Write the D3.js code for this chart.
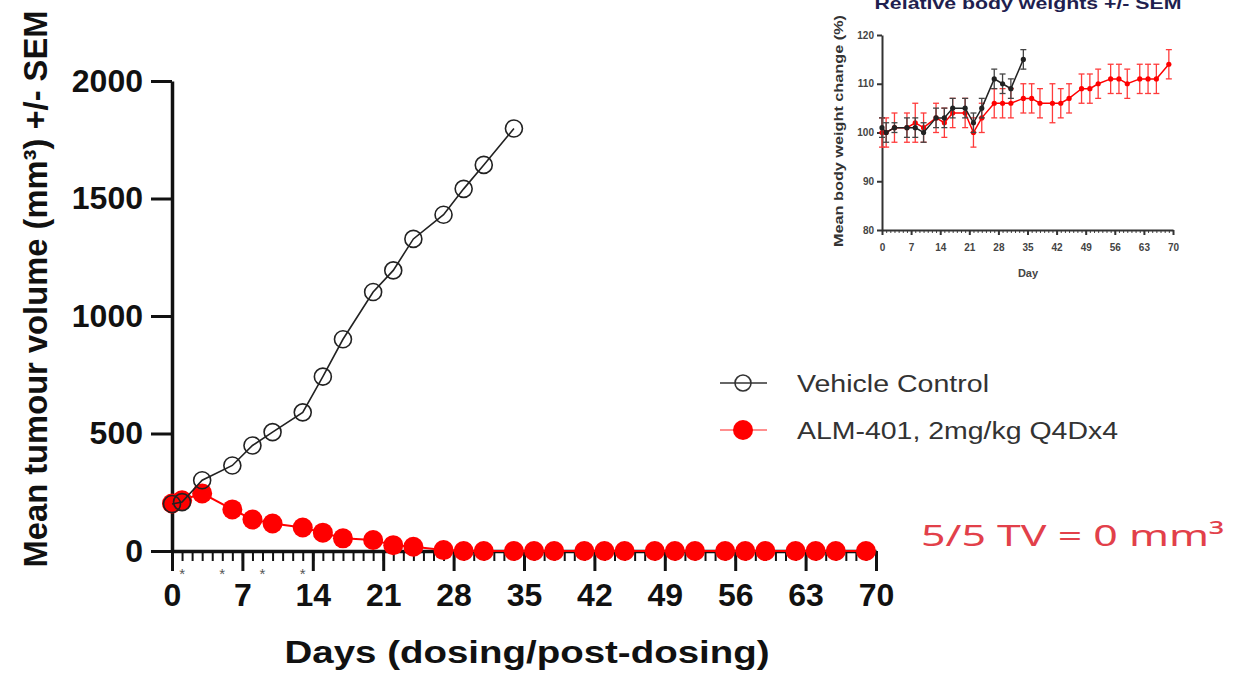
<!DOCTYPE html>
<html>
<head>
<meta charset="utf-8">
<script src="https://cdn.jsdelivr.net/npm/d3@7"></script>
<style>
  body { margin: 0; background: #fff; }
  svg { display: block; }
  text { font-family: 'Liberation Sans', Arial, sans-serif; }
</style>
</head>
<body>
<script>
// ---- data -------------------------------------------------------------
const seriesNames = ['Vehicle Control', 'ALM-401, 2mg/kg Q4Dx4']

const vehicleDays = [0, 1, 3, 6, 8, 10, 13, 15, 17, 20, 22, 24, 27, 29, 31, 34]
const vehicleVolume = [200, 208, 301, 364, 449, 506, 590, 742, 901, 1102, 1194, 1328, 1431, 1541, 1643, 1798]

const almDays = [0, 1, 3, 6, 8, 10, 13, 15, 17, 20, 22, 24, 27, 29, 31, 34, 36, 38, 41, 43, 45, 48, 50, 52, 55, 57, 59, 62, 64, 66, 69]
const almVolume = [202, 216, 245, 177, 134, 117, 100, 78, 54, 47, 25, 18, 4, 0, 0, 0, 0, 0, 0, 0, 0, 0, 0, 0, 0, 0, 0, 0, 0, 0, 0]

const dosingDays = [1, 5, 9, 13]
const volumeTicks = [0, 500, 1000, 1500, 2000]
const dayTicks = [0, 7, 14, 21, 28, 35, 42, 49, 56, 63, 70]

// inset: relative body weight
const bwVehicle = [101, 100, 101, 101, 101, 100, 103, 103, 105, 105, 102, 105, 111, 110, 109, 115]
const bwVehicleSem = [2, 2, 1, 2, 2, 2, 2, 2, 2, 2, 2, 2, 2, 2, 2, 2]
const bwAlm = [100, 100, 101, 101, 102, 101, 103, 102, 104, 104, 100, 103, 106, 106, 106, 107, 107, 106, 106, 106, 107, 109, 109, 110, 111, 111, 110, 111, 111, 111, 114]
const bwAlmSem = [3, 3, 3, 3, 4, 3, 3, 3, 3, 3, 3, 3, 3, 3, 3, 3, 3, 3, 4, 3, 3, 3, 3, 3, 3, 3, 3, 3, 3, 3, 3]
const bwTicks = [80, 90, 100, 110, 120]

const RED = '#ff0000'
const INK = '#111'

// ---- canvas --------------------------------------------------------------
const svg = d3.select('body').append('svg')
  .attr('width', 1233)
  .attr('height', 673)

const x = d3.scaleLinear().domain([0, 70]).range([172, 876])
const y = d3.scaleLinear().domain([0, 2000]).range([551, 81])

const toPoints = (days, vals) => days.map((d, i) => ({ day: d, v: vals[i] }))

// minor day ticks
svg.append('g')
  .attr('transform', `translate(0,${y(0)})`)
  .call(d3.axisBottom(x).tickValues(d3.range(0, 71)).tickSize(10).tickSizeOuter(0).tickFormat(''))
  .call(g => g.select('.domain').remove())
  .call(g => g.selectAll('line').attr('stroke', INK).attr('stroke-width', 2))

const xAxis = svg.append('g')
  .attr('transform', `translate(0,${y(0)})`)
  .call(d3.axisBottom(x).tickValues(dayTicks).tickSize(20).tickSizeOuter(0).tickPadding(12))

const yAxis = svg.append('g')
  .attr('transform', `translate(${x(0)},0)`)
  .call(d3.axisLeft(y).tickValues(volumeTicks).tickFormat(d3.format('d'))
    .tickSize(21).tickSizeOuter(0).tickPadding(8))

;[xAxis, yAxis].forEach(ax => {
  ax.select('.domain').attr('stroke', INK).attr('stroke-width', 3.5)
  ax.selectAll('.tick line').attr('stroke', INK).attr('stroke-width', 3)
  ax.selectAll('.tick text')
    .attr('fill', INK)
    .style('font-size', '32px')
    .style('font-weight', 'bold')
})

// dosing markers
svg.append('g').selectAll('text')
  .data(dosingDays)
  .join('text')
  .attr('x', d => x(d))
  .attr('y', 579)
  .attr('text-anchor', 'middle')
  .attr('fill', '#555')
  .style('font-size', '15px')
  .text('*')

// axis titles
svg.append('text')
  .attr('x', 527)
  .attr('y', 663)
  .attr('text-anchor', 'middle')
  .attr('fill', INK)
  .attr('textLength', 485)
  .attr('lengthAdjust', 'spacingAndGlyphs')
  .style('font-size', '31px')
  .style('font-weight', 'bold')
  .text('Days (dosing/post-dosing)')

svg.append('text')
  .attr('transform', 'translate(47,289) rotate(-90)')
  .attr('text-anchor', 'middle')
  .attr('fill', INK)
  .attr('textLength', 557)
  .attr('lengthAdjust', 'spacingAndGlyphs')
  .style('font-size', '33px')
  .style('font-weight', 'bold')
  .text('Mean tumour volume (mm³) +/- SEM')

// series
const line = d3.line().x(d => x(d.day)).y(d => y(d.v))

const alm = toPoints(almDays, almVolume)
const vehicle = toPoints(vehicleDays, vehicleVolume)

svg.append('path')
  .datum(alm)
  .attr('d', line)
  .attr('fill', 'none')
  .attr('stroke', RED)
  .attr('stroke-width', 2)

svg.append('g').selectAll('circle')
  .data(alm)
  .join('circle')
  .attr('cx', d => x(d.day))
  .attr('cy', d => y(d.v))
  .attr('r', 10)
  .attr('fill', RED)

svg.append('path')
  .datum(vehicle)
  .attr('d', line)
  .attr('fill', 'none')
  .attr('stroke', '#222')
  .attr('stroke-width', 1.6)

svg.append('g').selectAll('circle')
  .data(vehicle)
  .join('circle')
  .attr('cx', d => x(d.day))
  .attr('cy', d => y(d.v))
  .attr('r', 8.5)
  .attr('fill', 'none')
  .attr('stroke', '#222')
  .attr('stroke-width', 1.6)

// legend
const legendRows = [
  { name: seriesNames[0], y: 383, width: 192, line: '#333', fill: 'none', stroke: '#333', r: 8 },
  { name: seriesNames[1], y: 430, width: 321, line: '#ff6a6a', fill: RED, stroke: 'none', r: 10 },
]
const legend = svg.append('g').selectAll('g')
  .data(legendRows)
  .join('g')
  .attr('transform', d => `translate(0,${d.y})`)

legend.append('line')
  .attr('x1', 720).attr('x2', 767)
  .attr('stroke', d => d.line)
  .attr('stroke-width', 1.6)
legend.append('circle')
  .attr('cx', 743)
  .attr('r', d => d.r)
  .attr('fill', d => d.fill)
  .attr('stroke', d => d.stroke)
  .attr('stroke-width', 1.6)
legend.append('text')
  .attr('x', 797)
  .attr('y', 9)
  .attr('fill', '#333')
  .attr('textLength', d => d.width)
  .attr('lengthAdjust', 'spacingAndGlyphs')
  .style('font-size', '23.5px')
  .text(d => d.name)

// annotation
svg.append('text')
  .attr('x', 921)
  .attr('y', 546)
  .attr('fill', '#e2404a')
  .attr('textLength', 303)
  .attr('lengthAdjust', 'spacingAndGlyphs')
  .style('font-family', "'Noto Sans', sans-serif")
  .style('font-size', '29px')
  .text('5/5 TV = 0 mm³')

// ---- inset -----------------------------------------------------------------
const ix = d3.scaleLinear().domain([0, 70]).range([882, 1173])
const iy = d3.scaleLinear().domain([80, 120]).range([230, 35])

svg.append('g')
  .attr('transform', `translate(0,${iy(80)})`)
  .call(d3.axisBottom(ix).tickValues(d3.range(0, 71)).tickSize(3).tickSizeOuter(0).tickFormat(''))
  .call(g => g.select('.domain').remove())
  .call(g => g.selectAll('line').attr('stroke', '#444').attr('stroke-width', 1))

const ixAxis = svg.append('g')
  .attr('transform', `translate(0,${iy(80)})`)
  .call(d3.axisBottom(ix).tickValues(dayTicks).tickSize(5).tickSizeOuter(0).tickPadding(9))

const iyAxis = svg.append('g')
  .attr('transform', `translate(${ix(0)},0)`)
  .call(d3.axisLeft(iy).tickValues(bwTicks).tickSize(5).tickSizeOuter(0).tickPadding(3))

;[ixAxis, iyAxis].forEach(ax => {
  ax.select('.domain').attr('stroke', '#333').attr('stroke-width', 2)
  ax.selectAll('.tick line').attr('stroke', '#333').attr('stroke-width', 2)
  ax.selectAll('.tick text')
    .attr('fill', '#444')
    .style('font-size', '10px')
    .style('font-weight', 'bold')
})

svg.append('text')
  .attr('x', 1028)
  .attr('y', 9)
  .attr('text-anchor', 'middle')
  .attr('fill', '#1f1f4f')
  .attr('textLength', 307)
  .attr('lengthAdjust', 'spacingAndGlyphs')
  .style('font-size', '17px')
  .style('font-weight', 'bold')
  .text('Relative body weights +/- SEM')

svg.append('text')
  .attr('x', 1028)
  .attr('y', 277)
  .attr('text-anchor', 'middle')
  .attr('fill', '#444')
  .style('font-size', '11px')
  .style('font-weight', 'bold')
  .text('Day')

svg.append('text')
  .attr('transform', 'translate(843,131) rotate(-90)')
  .attr('text-anchor', 'middle')
  .attr('fill', '#333')
  .attr('textLength', 232)
  .attr('lengthAdjust', 'spacingAndGlyphs')
  .style('font-size', '13px')
  .style('font-weight', 'bold')
  .text('Mean body weight change (%)')

const iline = d3.line().x(d => ix(d.day)).y(d => iy(d.v))

const drawBwSeries = (days, vals, sems, color, barColor) => {
  const pts = days.map((d, i) => ({ day: d, v: vals[i], sem: sems[i] }))
  const g = svg.append('g')
  const bars = g.selectAll('g.bar')
    .data(pts)
    .join('g')
    .classed('bar', true)
    .attr('stroke', barColor)
    .attr('stroke-width', 1.3)
  bars.append('line')
    .attr('x1', d => ix(d.day)).attr('x2', d => ix(d.day))
    .attr('y1', d => iy(d.v - d.sem)).attr('y2', d => iy(d.v + d.sem))
  bars.append('line')
    .attr('x1', d => ix(d.day) - 3).attr('x2', d => ix(d.day) + 3)
    .attr('y1', d => iy(d.v - d.sem)).attr('y2', d => iy(d.v - d.sem))
  bars.append('line')
    .attr('x1', d => ix(d.day) - 3).attr('x2', d => ix(d.day) + 3)
    .attr('y1', d => iy(d.v + d.sem)).attr('y2', d => iy(d.v + d.sem))
  g.append('path')
    .datum(pts)
    .attr('d', iline)
    .attr('fill', 'none')
    .attr('stroke', color)
    .attr('stroke-width', 1.5)
  g.selectAll('circle')
    .data(pts)
    .join('circle')
    .attr('cx', d => ix(d.day))
    .attr('cy', d => iy(d.v))
    .attr('r', 2.6)
    .attr('fill', color)
}

drawBwSeries(almDays, bwAlm, bwAlmSem, RED, '#ff3b3b')
drawBwSeries(vehicleDays, bwVehicle, bwVehicleSem, '#222', '#444')
</script>
</body>
</html>
